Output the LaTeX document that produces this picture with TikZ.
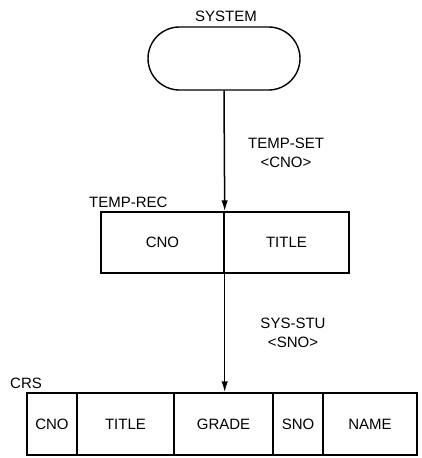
\documentclass[tikz,border=0pt]{standalone}
\usepackage{fontspec}
\setmainfont{Liberation Sans}
\usetikzlibrary{arrows.meta}
\begin{document}
\begin{tikzpicture}[x=1pt,y=-1pt,
  every node/.style={font=\fontsize{15}{17}\selectfont},
  cell/.style={draw,line width=1.4pt,inner sep=0pt,minimum height=#1},
  lbl/.style={inner sep=0pt},
  arr/.style={line width=1.5pt,-{Latex[length=11pt,width=6.5pt]}}]
\useasboundingbox (0,0) rectangle (422,458);
% SYSTEM
\node[draw,line width=1.4pt,rounded corners=31.5pt,minimum width=152pt,minimum height=63pt,inner sep=0pt] (sys) at (224,58.5) {};
\node[lbl] (syslbl) at (226,16) {SYSTEM};
% TEMP-REC
\node[cell=61pt,minimum width=123pt] (tcno) at (162.5,242.5) {CNO};
\node[cell=61pt,minimum width=125pt] (ttitle) at (286.5,242.5) {TITLE};
\node[lbl,anchor=west] (treclbl) at (89,202) {TEMP-REC};
% CRS
\node[cell=62pt,minimum width=50pt] (ccno) at (52,424) {CNO};
\node[cell=62pt,minimum width=97pt] (ctitle) at (125.5,424) {TITLE};
\node[cell=62pt,minimum width=99pt] (cgrade) at (223.5,424) {GRADE};
\node[cell=62pt,minimum width=50pt] (csno) at (298,424) {SNO};
\node[cell=62pt,minimum width=94pt] (cname) at (370,424) {NAME};
\node[lbl,anchor=west] (crslbl) at (10,383) {CRS};
% connectors
\draw[arr] (sys.south) -- (tcno.north east);
\draw[arr] (tcno.south east) -- (tcno.south east |- cgrade.north);
% labels
\node[lbl,align=center] (l1) at (286,152.5) {TEMP-SET\\[2pt]<CNO>};
\node[lbl,align=center] (l2) at (293,333) {SYS-STU\\[2pt]<SNO>};
\end{tikzpicture}
\end{document}
